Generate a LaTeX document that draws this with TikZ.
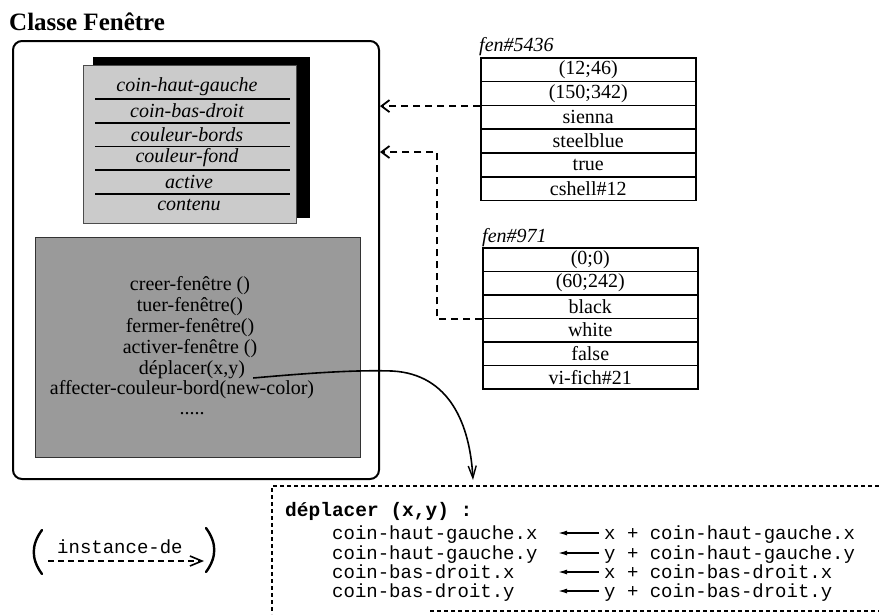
\documentclass[tikz,border=0pt]{standalone}
\usepackage{fontspec}
\setmainfont{Liberation Serif}
\setmonofont{Liberation Mono}
\usetikzlibrary{arrows.meta,calc}
\definecolor{attrgray}{HTML}{CBCBCB}
\definecolor{methgray}{HTML}{9A9A9A}
\tikzset{
  titletext/.style={font=\fontsize{25}{30}\selectfont\bfseries, inner sep=0pt},
  frame/.style={draw, line width=2pt, rounded corners=9pt, anchor=north west},
  attrtext/.style={font=\fontsize{20}{22}\selectfont\itshape, inner sep=0pt},
  septline/.style={line width=1.6pt},
  methtext/.style={font=\fontsize{20}{21}\selectfont, inner sep=0pt},
  cell/.style={draw, line width=1.5pt, minimum width=215pt, minimum height=23.8pt,
    anchor=north west, inner sep=0pt, font=\fontsize{20}{21}\selectfont},
  objlabel/.style={font=\fontsize{20}{21}\selectfont\itshape, inner sep=0pt, anchor=base west},
  link/.style={line width=2pt, dash pattern=on 7pt off 5pt,
    -{Straight Barb[length=8pt,width=12pt,line width=1.8pt]}},
  callarrow/.style={line width=1.6pt, -{Straight Barb[length=12pt,width=8pt,line width=1.4pt]}},
  codebox/.style={line width=1.2pt, dash pattern=on 4pt off 3pt},
  codehead/.style={font=\fontsize{19.5}{22}\selectfont\ttfamily\bfseries, inner sep=0pt, anchor=base west},
  code/.style={font=\fontsize{19}{22}\selectfont\ttfamily, inner sep=0pt, anchor=base west,
    text height=10pt, text depth=2pt},
  assign/.style={line width=1.4pt, -{Latex[length=9pt,width=5pt]}},
  legendarrow/.style={line width=1.6pt, dash pattern=on 6pt off 4pt,
    -{Straight Barb[length=12pt,width=10pt,line width=1.6pt]}},
  paren/.style={line width=2.4pt, line cap=round}
}
\begin{document}
\begin{tikzpicture}[x=1pt,y=-1pt]
\useasboundingbox (0,0) rectangle (879,614);

% class title and frame
\node[titletext, anchor=base west] (title) at (9,30) {Classe Fenêtre};
\node[frame, minimum width=366pt, minimum height=438pt] (cls) at (12,40) {};

% attribute panel with its black drop shadow
\fill[black] (93,57) rectangle (310,218);
\filldraw[fill=attrgray, draw=black!70, line width=1pt] (83,65) rectangle (296,223);
\foreach \y in {99,123,146.5,170,194}
  \draw[septline] (95,\y) -- (290,\y);
\node[attrtext] (a1) at (187,87)  {coin-haut-gauche};
\node[attrtext] (a2) at (187,111) {coin-bas-droit};
\node[attrtext] (a3) at (187,135) {couleur-bords};
\node[attrtext] (a4) at (187,158) {couleur-fond};
\node[attrtext] (a5) at (189,182) {active};
\node[attrtext] (a6) at (189,205) {contenu};

% method panel
\filldraw[fill=methgray, draw=black!80, line width=1pt] (35,237) rectangle (360,457);
\node[methtext] (m1) at (190,286) {creer-fenêtre ()};
\node[methtext] (m2) at (190,307) {tuer-fenêtre()};
\node[methtext] (m3) at (190,328) {fermer-fenêtre()};
\node[methtext] (m4) at (190,349) {activer-fenêtre ()};
\node[methtext] (mdep) at (192,370) {déplacer(x,y)};
\node[methtext] (m6) at (182,390) {affecter-couleur-bord(new-color)};
\node[methtext] (m7) at (192,414) {.....};

% instance fen#5436
\node[objlabel] (o1) at (479,51) {fen\#5436};
\foreach \t [count=\i] in {(12;46),(150;342),sienna,steelblue,true,cshell\#12}
  \node[cell] (t1r\i) at (480,{57+(\i-1)*23.8}) {\t};

% instance fen#971
\node[objlabel] (o2) at (482,242) {fen\#971};
\foreach \t [count=\i] in {(0;0),(60;242),black,white,false,vi-fich\#21}
  \node[cell] (t2r\i) at (482,{247+(\i-1)*23.5}) {\t};

% instance-of links back to the class
\draw[link] (t1r2.south west) -- (t1r2.south west -| cls.east);
\coordinate (bend) at (437,152);
\draw[link] (t2r3.south west) -| (bend) -- (bend -| cls.east);

% body of the method deplacer
\coordinate (deptip) at (473,480);
\draw[callarrow] ([shift={(8,8)}]mdep.east) .. controls (320,372) and (360,370) .. (392,371)
  .. controls (450,374) and (470,425) .. (deptip);

\draw[codebox] (879,486) -- (272,486) -- (272,614);
\draw[codebox] (430,611) -- (879,611);
\node[codehead] (c0) at (285,516) {déplacer (x,y) :};
\node[code] (l1) at (332,539) {coin-haut-gauche.x};
\node[code] (l2) at (332,559) {coin-haut-gauche.y};
\node[code] (l3) at (332,578) {coin-bas-droit.x};
\node[code] (l4) at (332,597) {coin-bas-droit.y};
\node[code] (r1) at (604,539) {x + coin-haut-gauche.x};
\node[code] (r2) at (604,559) {y + coin-haut-gauche.y};
\node[code] (r3) at (604,578) {x + coin-bas-droit.x};
\node[code] (r4) at (604,597) {y + coin-bas-droit.y};
\coordinate (lhs) at (558,0);
\foreach \k in {1,2,3,4}
  \draw[assign] ($(r\k.west)+(-5,-2)$) -- ($(r\k.west -| lhs)+(0,-2)$);

% legend
\node[code] (lg) at (57,553) {instance-de};
\coordinate (lgA) at (48,561);
\coordinate (lgB) at (204,561);
\draw[legendarrow] (lgA) -- (lgB);
\draw[paren] (42,530) .. controls (31,545) and (31,559) .. (42,574);
\draw[paren] (206,528) .. controls (217,543) and (217,557) .. (206,572);
\end{tikzpicture}
\end{document}
